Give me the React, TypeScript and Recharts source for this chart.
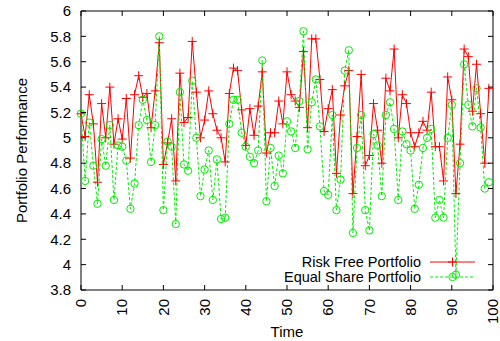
import React from 'react';
import { LineChart, Line, XAxis, YAxis, ReferenceArea, Legend } from 'recharts';

const riskFree = [
  5.19, 5.01, 5.34, 5.11, 4.65, 5.27, 5.0, 5.4, 4.95, 5.15,
  4.99, 5.31, 4.84, 5.34, 5.49, 5.32, 5.35, 5.08, 5.37, 5.75,
  4.79, 4.96, 5.15, 4.66, 5.51, 5.12, 5.16, 5.76, 5.36, 5.0,
  5.14, 5.37, 5.19, 5.06, 5.0, 4.81, 5.35, 5.55, 5.53, 5.22,
  4.94, 5.23, 5.02, 5.25, 5.52, 4.88, 5.04, 5.04, 5.29, 5.11,
  5.52, 5.34, 5.29, 5.24, 5.68, 5.08, 5.78, 5.78, 5.46, 5.05,
  5.23, 5.38, 4.72, 5.18, 5.41, 5.53, 4.56, 5.01, 5.5, 4.78,
  4.86, 5.27, 5.06, 4.8, 5.47, 5.37, 5.7, 5.0, 5.34, 5.27,
  5.04, 4.93, 5.04, 5.13, 5.06, 5.36, 4.93, 4.93, 4.66, 5.48,
  5.3, 4.56, 4.95, 5.7, 5.64, 5.21, 5.58, 5.19, 4.8, 5.39,
];

const equalShare = [
  5.19, 4.66, 5.12, 4.78, 4.48, 4.99, 4.78, 5.1, 4.51, 4.94,
  4.93, 4.82, 4.44, 4.64, 5.1, 5.3, 5.14, 4.81, 5.1, 5.8,
  4.43, 4.97, 4.93, 4.32, 5.36, 4.79, 4.74, 5.45, 5.0, 4.54,
  4.75, 4.9, 4.51, 4.83, 4.36, 4.37, 5.11, 5.3, 5.3, 5.04,
  4.93, 4.85, 4.8, 4.9, 5.61, 4.5, 4.92, 4.62, 4.86, 4.72,
  5.13, 5.05, 4.92, 5.29, 5.84, 4.91, 5.28, 5.46, 5.09, 4.58,
  4.55, 5.18, 4.43, 4.67, 5.53, 5.69, 4.25, 4.92, 5.18, 4.43,
  4.27, 5.03, 4.94, 4.54, 5.18, 5.28, 5.07, 4.51, 5.05, 4.95,
  4.9, 4.44, 4.63, 4.92, 5.0, 5.07, 4.37, 4.51, 4.37, 5.0,
  5.26, 3.92, 4.8, 5.58, 5.26, 5.09, 5.39, 5.08, 4.6, 4.65,
];

const xTicks = [0, 10, 20, 30, 40, 50, 60, 70, 80, 90, 100];
const yTicks = [3.8, 4, 4.2, 4.4, 4.6, 4.8, 5, 5.2, 5.4, 5.6, 5.8, 6];
const seriesNames = ['Risk Free Portfolio', 'Equal Share Portfolio'];
const axisTitles = { x: 'Time', y: 'Portfolio Performance' };

const data = riskFree.map((v, i) => ({ t: i, riskFree: v, equalShare: equalShare[i] }));

const FONT = '"Liberation Sans", Arial, Helvetica, sans-serif';
const FS = 15;
const LFS = 14.5;
const RED = '#ff0000';
const GREEN = '#00ee00';
const PL = 81, PR = 493, PT = 11, PB = 290;

const fmt = (v: number) => String(Math.round(v * 10) / 10);

const XTick = (props: any) => {
  const x = props.x;
  return (
    <g>
      <line x1={x} x2={x} y1={PB} y2={PB - 5} stroke="#000" />
      <line x1={x} x2={x} y1={PT} y2={PT + 5} stroke="#000" />
      <text
        x={x}
        y={299}
        transform={`rotate(-90 ${x} 299)`}
        textAnchor="end"
        dy="0.35em"
        fontFamily={FONT}
        fontSize={FS}
        fill="#000"
      >
        {props.payload.value}
      </text>
    </g>
  );
};

const YTick = (props: any) => {
  const y = props.y;
  return (
    <g>
      <line x1={PL} x2={PL + 5} y1={y} y2={y} stroke="#000" />
      <line x1={PR} x2={PR - 5} y1={y} y2={y} stroke="#000" />
      <text x={71} y={y} dy="0.35em" textAnchor="end" fontFamily={FONT} fontSize={FS} fill="#000">
        {fmt(props.payload.value)}
      </text>
    </g>
  );
};

const PlusDot = (props: any) => {
  const { cx, cy, index } = props;
  if (cx == null || cy == null) return <g key={`p${index}`} />;
  return (
    <path
      key={`p${index}`}
      d={`M${cx - 4.5},${cy}H${cx + 4.5}M${cx},${cy - 4.5}V${cy + 4.5}`}
      stroke={RED}
      strokeWidth={1}
      fill="none"
    />
  );
};

const CircleDot = (props: any) => {
  const { cx, cy, index } = props;
  if (cx == null || cy == null) return <g key={`c${index}`} />;
  return <circle key={`c${index}`} cx={cx} cy={cy} r={3.7} stroke={GREEN} strokeWidth={1} fill="none" />;
};

const LegendContent = () => {
  const tx = 421;
  const lx1 = 430, lx2 = 475, mx = 452.5;
  const y1 = 262, y2 = 277;
  return (
    <svg width={500} height={341} style={{ position: 'absolute', left: 0, top: 0 }}>
      <text x={tx} y={y1} dy="0.35em" textAnchor="end" fontFamily={FONT} fontSize={LFS} fill="#000">
        {seriesNames[0]}
      </text>
      <line x1={lx1} x2={lx2} y1={y1} y2={y1} stroke={RED} strokeWidth={1} />
      <path d={`M${mx - 4.5},${y1}H${mx + 4.5}M${mx},${y1 - 4.5}V${y1 + 4.5}`} stroke={RED} fill="none" />
      <text x={tx} y={y2} dy="0.35em" textAnchor="end" fontFamily={FONT} fontSize={LFS} fill="#000">
        {seriesNames[1]}
      </text>
      <line x1={lx1} x2={lx2} y1={y2} y2={y2} stroke={GREEN} strokeWidth={1} strokeDasharray="3 2" />
      <circle cx={mx} cy={y2} r={3.7} stroke={GREEN} fill="none" />
    </svg>
  );
};

export default function App() {
  return (
    <div style={{ position: 'absolute', left: 0, top: 0, width: 500, height: 341, background: '#fff' }}>
      <LineChart width={500} height={341} data={data} margin={{ top: PT, right: 500 - PR, bottom: 0, left: 0 }}>
        <XAxis
          dataKey="t"
          type="number"
          domain={[0, 100]}
          ticks={xTicks}
          interval={0}
          tick={<XTick />}
          tickLine={false}
          axisLine={false}
          height={341 - PB}
          label={{
            content: () => (
              <text x={(PL + PR) / 2} y={332} dy="0.35em" textAnchor="middle" fontFamily={FONT} fontSize={FS} fill="#000">
                {axisTitles.x}
              </text>
            ),
          }}
        />
        <YAxis
          type="number"
          domain={[3.8, 6]}
          ticks={yTicks}
          interval={0}
          tick={<YTick />}
          tickLine={false}
          axisLine={false}
          width={PL}
          label={{
            content: () => (
              <text
                x={22}
                y={(PT + PB) / 2}
                transform={`rotate(-90 22 ${(PT + PB) / 2})`}
                dy="0.35em"
                textAnchor="middle"
                fontFamily={FONT}
                fontSize={FS}
                fill="#000"
              >
                {axisTitles.y}
              </text>
            ),
          }}
        />
        <ReferenceArea x1={0} x2={100} y1={3.8} y2={6} fill="none" stroke="#000" strokeWidth={1} ifOverflow="visible" />
        <Line
          dataKey="riskFree"
          name={seriesNames[0]}
          stroke={RED}
          strokeWidth={1}
          dot={PlusDot}
          activeDot={false}
          isAnimationActive={false}
          type="linear"
        />
        <Line
          dataKey="equalShare"
          name={seriesNames[1]}
          stroke={GREEN}
          strokeWidth={1}
          strokeDasharray="3 2"
          dot={CircleDot}
          activeDot={false}
          isAnimationActive={false}
          type="linear"
        />
        <Legend
          verticalAlign="middle"
          align="center"
          layout="horizontal"
          wrapperStyle={{ position: 'absolute', left: 0, top: 0, width: 500, height: 341, pointerEvents: 'none' }}
          content={LegendContent}
        />
      </LineChart>
    </div>
  );
}
